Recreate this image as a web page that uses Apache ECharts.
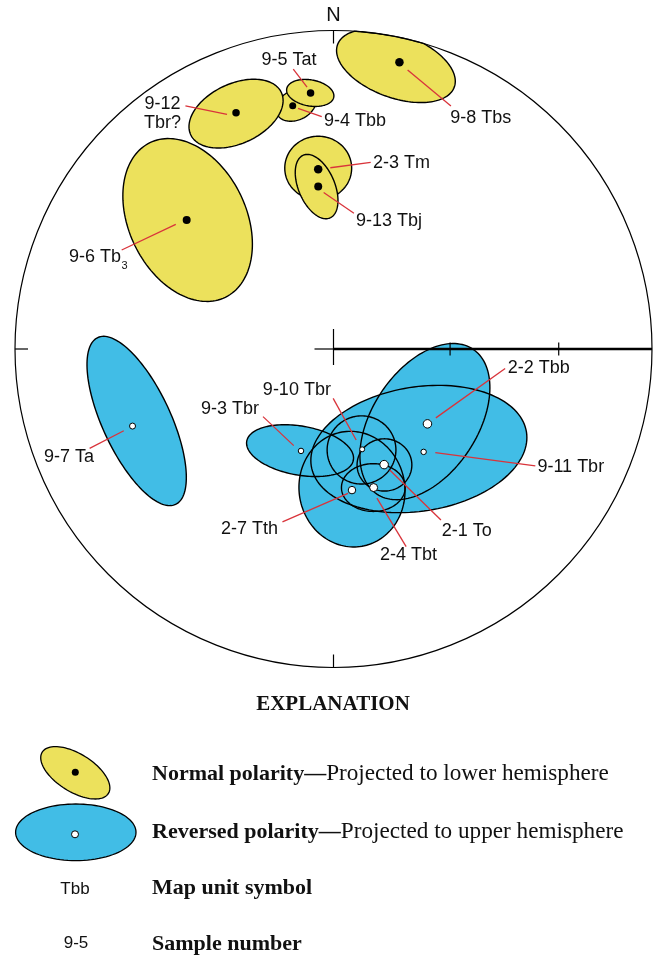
<!DOCTYPE html>
<html>
<head>
<meta charset="utf-8">
<script src="https://cdn.jsdelivr.net/npm/echarts@6/dist/echarts.min.js"></script>
<style>
  html, body { margin: 0; padding: 0; background: #ffffff; }
  #chart { width: 653px; height: 958px; }
</style>
</head>
<body>
<div id="chart"></div>
<script>
// Site-mean paleomagnetic directions on an equal-area net (net radius = 1).
// Ovals are the projected cones of 95% confidence about each mean.
const sampleIds = ['9-8', '9-4', '9-12', '9-5', '9-6', '2-3', '9-13',
                   '9-7', '9-3', '9-10', '9-11', '2-2', '2-1', '2-4', '2-7'];
const mapUnits  = ['Tbs', 'Tbb', 'Tbr?', 'Tat', 'Tb3', 'Tm', 'Tbj',
                   'Ta', 'Tbr', 'Tbr', 'Tbr', 'Tbb', 'To', 'Tbt', 'Tth'];
const polarity  = ['normal', 'normal', 'normal', 'normal', 'normal', 'normal', 'normal',
                   'reversed', 'reversed', 'reversed', 'reversed', 'reversed', 'reversed', 'reversed', 'reversed'];

// Mean direction, projected east (x) and north (y) coordinates
const meanX = [0.207, -0.128, -0.306, -0.072, -0.461, -0.048, -0.048,
               -0.631, -0.102, 0.090, 0.283, 0.295, 0.159, 0.126, 0.058];
const meanY = [0.900, 0.764, 0.742, 0.804, 0.405, 0.564, 0.510,
               -0.242, -0.320, -0.315, -0.323, -0.235, -0.363, -0.435, -0.443];

// Confidence ovals: centre, semi-axes and tilt of the long axis (degrees, counter-clockwise from east)
const ovalX     = [0.196, -0.118, -0.306, -0.073, -0.458, -0.048, -0.053,
                   -0.618, -0.105, 0.088, 0.268, 0.287, 0.160, 0.125, 0.058];
const ovalY     = [0.889, 0.766, 0.739, 0.804, 0.405, 0.568, 0.510,
                   -0.226, -0.319, -0.317, -0.314, -0.228, -0.364, -0.435, -0.440];
const ovalMajor = [0.195, 0.066, 0.157, 0.075, 0.270, 0.105, 0.107,
                   0.289, 0.170, 0.108, 0.342, 0.273, 0.086, 0.100, 0.182];
const ovalMinor = [0.100, 0.047, 0.094, 0.041, 0.184, 0.100, 0.057,
                   0.107, 0.077, 0.107, 0.195, 0.165, 0.082, 0.075, 0.166];
const ovalTilt  = [-20, 25, 25, -10, 116, 0, 113,
                   115, -10, 0, 9, 56.5, 0, 0, 100];

// Inclination marks along the east radius
const inclinationTicks = [60, 30];

// ---- styling ----
const YELLOW = '#ece15c';
const BLUE = '#41bde6';
const RED = '#d9343b';
const SANS = '"Liberation Sans", Arial, sans-serif';
const SERIF = '"Liberation Serif", "Times New Roman", serif';
const LABEL_FONT = '18px ' + SANS;

const dotDiameter = {
  '9-8': 8.5, '9-4': 7, '9-12': 7.5, '9-5': 7.5, '9-6': 8, '2-3': 8.5, '9-13': 8,
  '9-7': 6, '9-3': 5.5, '9-10': 5, '9-11': 5.5, '2-2': 8.5, '2-1': 8.5, '2-4': 8, '2-7': 7.5
};

// Label placement in pixels relative to the mean point: text anchor and leader line ends
const labelLayout = {
  '9-8':  { at: [50.7, 56],    align: 'left',   from: [51.5, 43.7],  to: [8.2, 7.7] },
  '9-4':  { at: [31.3, 15],    align: 'left',   from: [29, 11],      to: [5.3, 2.6] },
  '9-12': { at: [-73.5, 0.6],  align: 'center', from: [-50.6, -6.7], to: [-9, 1.6], twoLines: true },
  '9-5':  { at: [-21.5, -33],  align: 'center', from: [-17.3, -23.7], to: [-3.5, -5.7] },
  '9-6':  { at: [-117.7, 37.3], align: 'left',  from: [-65, 30],     to: [-10.9, 4.3] },
  '2-3':  { at: [54.7, -6],    align: 'left',   from: [52.5, -7],    to: [12.1, -1.6] },
  '9-13': { at: [37.7, 34],    align: 'left',   from: [35.7, 26.6],  to: [5.45, 6] },
  '9-7':  { at: [-88.5, 30.7], align: 'left',   from: [-42.9, 22.3], to: [-8.75, 4.7] },
  '9-3':  { at: [-100, -41.7], align: 'left',   from: [-38, -34.3],  to: [-7.25, -5.3] },
  '9-10': { at: [-99.3, -59.3], align: 'left',  from: [-29, -51],    to: [-6, -9.3] },
  '9-11': { at: [113.8, 14.7], align: 'left',   from: [111.7, 14],   to: [11.7, 0.7] },
  '2-2':  { at: [80.2, -55.4], align: 'left',   from: [77.7, -55.4], to: [8.4, -6] },
  '2-1':  { at: [57.7, 66],    align: 'left',   from: [56.8, 55.3],  to: [5.6, 5.3] },
  '2-4':  { at: [6.3, 67.3],   align: 'left',   from: [32.5, 59],    to: [3.3, 10.6] },
  '2-7':  { at: [-131, 39.3],  align: 'left',   from: [-69.5, 31.7], to: [-4, 3.3] }
};

const measureCtx = document.createElement('canvas').getContext('2d');
function textWidth(str, font) { measureCtx.font = font; return measureCtx.measureText(str).width; }

const DEG = Math.PI / 180;
// Outline of an oval in net coordinates, limited to the primitive circle
function ovalOutline(i) {
  const pts = [];
  const c = Math.cos(ovalTilt[i] * DEG), s = Math.sin(ovalTilt[i] * DEG);
  const n = 144;
  for (let k = 0; k < n; k++) {
    const t = (k / n) * 2 * Math.PI;
    const u = ovalMajor[i] * Math.cos(t), v = ovalMinor[i] * Math.sin(t);
    let x = ovalX[i] + u * c - v * s;
    let y = ovalY[i] + u * s + v * c;
    const r = Math.hypot(x, y);
    if (r > 1) { x /= r; y /= r; }
    pts.push([x, y]);
  }
  return pts;
}

const idx = sampleIds.map((_, i) => i);
const normalIdx = idx.filter(i => polarity[i] === 'normal');
const reversedIdx = idx.filter(i => polarity[i] === 'reversed');
const ovalData = list => list.map(i => [ovalX[i], ovalY[i], i]);
const meanData = list => list.map(i => ({ value: [meanX[i], meanY[i], i], symbolSize: dotDiameter[sampleIds[i]] }));

function ovalRenderer(fill, stroke) {
  return function (params, api) {
    const i = api.value(2);
    const points = ovalOutline(i).map(p => api.coord(p));
    return {
      type: 'polygon',
      shape: { points: points },
      style: { fill: fill, stroke: stroke, lineWidth: 1.4 }
    };
  };
}

function labelRenderer(params, api) {
  const i = api.value(2);
  const p = api.coord([api.value(0), api.value(1)]);
  const L = labelLayout[sampleIds[i]];
  const children = [{
    type: 'line',
    shape: { x1: p[0] + L.from[0], y1: p[1] + L.from[1], x2: p[0] + L.to[0], y2: p[1] + L.to[1] },
    style: { stroke: RED, lineWidth: 1.3 }
  }];
  let unit = mapUnits[i];
  let sub = '';
  const m = unit.match(/^(.*[A-Za-z])(\d)$/);
  if (m) { unit = m[1]; sub = m[2]; }
  const text = L.twoLines ? sampleIds[i] + '\n' + unit : sampleIds[i] + ' ' + unit;
  const tx = p[0] + L.at[0], ty = p[1] + L.at[1];
  children.push({
    type: 'text', x: tx, y: ty,
    style: { text: text, font: LABEL_FONT, fill: '#111', align: L.align, verticalAlign: 'middle', lineHeight: 19 }
  });
  if (sub) {
    const w = textWidth(text, LABEL_FONT);
    children.push({
      type: 'text', x: tx + w + 0.5, y: ty + 9,
      style: { text: sub, font: '11px ' + SANS, fill: '#111', align: 'left', verticalAlign: 'middle' }
    });
  }
  return { type: 'group', children: children };
}

function frameRenderer(params, api) {
  const c = api.coord([0, 0]);
  const R = api.coord([1, 0])[0] - c[0];
  const cx = c[0], cy = c[1];
  const ln = (x1, y1, x2, y2, w) => ({ type: 'line', shape: { x1, y1, x2, y2 }, style: { stroke: '#000', lineWidth: w } });
  const children = [
    { type: 'circle', shape: { cx: cx, cy: cy, r: R }, style: { fill: 'none', stroke: '#000', lineWidth: 1.2 } },
    ln(cx, cy - R, cx, cy - R + 13, 1.2),
    ln(cx - R, cy, cx - R + 13, cy, 1.2),
    ln(cx, cy + R, cx, cy + R - 13, 1.2),
    ln(cx, cy - 20, cx, cy + 16, 1.2),
    ln(cx - 19, cy, cx, cy, 1.2),
    ln(cx, cy, cx + R, cy, 2.6)
  ];
  inclinationTicks.forEach(inc => {
    const r = Math.SQRT2 * Math.sin((90 - inc) / 2 * DEG);
    const x = cx + r * R;
    children.push(ln(x, cy - 6.5, x, cy + 6.5, 1.2));
  });
  children.push({
    type: 'text', x: cx, y: cy - R - 15,
    style: { text: 'N', font: '20px ' + SANS, fill: '#111', align: 'center', verticalAlign: 'middle' }
  });
  return { type: 'group', children: children };
}

// Legend glyph outline in screen pixels
function glyphOval(cx, cy, a, b, rotDeg) {
  const pts = [];
  const c = Math.cos(rotDeg * DEG), s = Math.sin(rotDeg * DEG);
  for (let k = 0; k < 96; k++) {
    const t = (k / 96) * 2 * Math.PI;
    const u = a * Math.cos(t), v = b * Math.sin(t);
    pts.push([cx + u * c - v * s, cy + u * s + v * c]);
  }
  return pts;
}

const legendRich = {
  b: { fontFamily: SERIF, fontWeight: 'bold', fontSize: 22, fill: '#111' },
  r: { fontFamily: SERIF, fontSize: 23.2, fill: '#111' }
};

const chart = echarts.init(document.getElementById('chart'), null, { renderer: 'canvas' });
chart.setOption({
  animation: false,
  backgroundColor: '#ffffff',
  grid: { left: 15, top: 30.5, width: 637, height: 637 },
  xAxis: { type: 'value', min: -1, max: 1, show: false },
  yAxis: { type: 'value', min: -1, max: 1, show: false },
  series: [
    { type: 'custom', name: 'normal ovals', z: 2, silent: true, data: ovalData(normalIdx),
      renderItem: ovalRenderer(YELLOW, '#000') },
    { type: 'custom', name: 'reversed ovals', z: 3, silent: true, data: ovalData(reversedIdx),
      renderItem: ovalRenderer(BLUE, 'none') },
    { type: 'custom', name: 'reversed outlines', z: 4, silent: true, data: ovalData(reversedIdx),
      renderItem: ovalRenderer('none', '#000') },
    { type: 'scatter', name: 'normal means', z: 6, silent: true, symbol: 'circle',
      data: meanData(normalIdx), itemStyle: { color: '#000', opacity: 1 } },
    { type: 'scatter', name: 'reversed means', z: 6, silent: true, symbol: 'circle',
      data: meanData(reversedIdx), itemStyle: { color: '#fff', borderColor: '#000', borderWidth: 1, opacity: 1 } },
    { type: 'custom', name: 'labels', z: 5, silent: true, data: idx.map(i => [meanX[i], meanY[i], i]),
      renderItem: labelRenderer },
    { type: 'custom', name: 'net', z: 5, silent: true, data: [[0, 0]],
      renderItem: frameRenderer }
  ],
  graphic: [
    { type: 'text', x: 333, y: 705, style: { text: 'EXPLANATION', font: 'bold 21px ' + SERIF, fill: '#111', align: 'center', verticalAlign: 'middle' } },
    { type: 'polygon', shape: { points: glyphOval(75.3, 772.8, 39, 19, 32) }, style: { fill: YELLOW, stroke: '#000', lineWidth: 1.3 } },
    { type: 'circle', shape: { cx: 75.3, cy: 772.3, r: 3.5 }, style: { fill: '#000' } },
    { type: 'polygon', shape: { points: glyphOval(75.8, 832.3, 60.2, 28.3, 0) }, style: { fill: BLUE, stroke: '#000', lineWidth: 1.3 } },
    { type: 'circle', shape: { cx: 75, cy: 834.3, r: 3.5 }, style: { fill: '#fff', stroke: '#000', lineWidth: 1 } },
    { type: 'text', x: 75, y: 889, style: { text: 'Tbb', font: '17px ' + SANS, fill: '#111', align: 'center', verticalAlign: 'middle' } },
    { type: 'text', x: 76, y: 943, style: { text: '9-5', font: '17px ' + SANS, fill: '#111', align: 'center', verticalAlign: 'middle' } },
    { type: 'text', x: 152, y: 774, style: { text: '{b|Normal polarity—}{r|Projected to lower hemisphere}', rich: legendRich, verticalAlign: 'middle' } },
    { type: 'text', x: 152, y: 832, style: { text: '{b|Reversed polarity—}{r|Projected to upper hemisphere}', rich: legendRich, verticalAlign: 'middle' } },
    { type: 'text', x: 152, y: 888, style: { text: '{b|Map unit symbol}', rich: legendRich, verticalAlign: 'middle' } },
    { type: 'text', x: 152, y: 944, style: { text: '{b|Sample number}', rich: legendRich, verticalAlign: 'middle' } }
  ]
});
</script>
</body>
</html>
